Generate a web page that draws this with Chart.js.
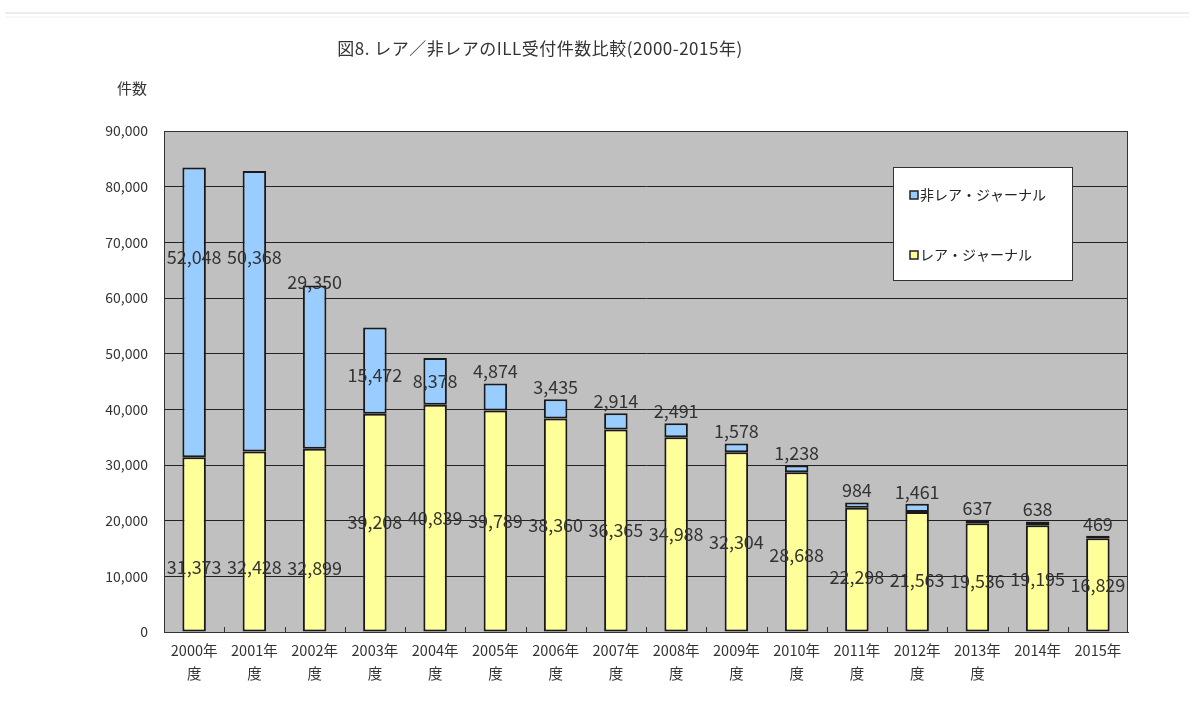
<!DOCTYPE html>
<html>
<head>
<meta charset="utf-8">
<script src="https://cdn.jsdelivr.net/npm/chart.js@4/dist/chart.umd.min.js"></script>
<style>
html,body{margin:0;padding:0;background:#fff;}
#wrap{position:relative;width:1194px;height:706px;}
#topline{position:absolute;left:5px;right:5px;top:12px;height:2px;background:#ececec;}
#topline2{position:absolute;left:5px;right:5px;top:16px;height:2px;background:#f7f7f7;}
canvas{position:absolute;left:0;top:0;}
</style>
</head>
<body>
<div id="wrap">
<canvas id="c" width="1194" height="706"></canvas>
<div id="topline"></div><div id="topline2"></div>
</div>
<script>
const categories = [
  ["2000年","度"],["2001年","度"],["2002年","度"],["2003年","度"],
  ["2004年","度"],["2005年","度"],["2006年","度"],["2007年","度"],
  ["2008年","度"],["2009年","度"],["2010年","度"],["2011年","度"],
  ["2012年","度"],["2013年","度"],["2014年"],["2015年"]
];
const rareJournal = [31373,32428,32899,39208,40839,39789,38360,36365,34988,32304,28688,22298,21563,19536,19195,16829];
const nonRareJournal = [52048,50368,29350,15472,8378,4874,3435,2914,2491,1578,1238,984,1461,637,638,469];
const seriesNames = ["レア・ジャーナル","非レア・ジャーナル"];
const titleText = "図8. レア／非レアのILL受付件数比較(2000-2015年)";
const yAxisTitle = "件数";
const yMax = 90000, yStep = 10000;

const FONT = "'Noto Sans CJK JP', 'Noto Sans', sans-serif";
const fmt = v => v.toLocaleString('en-US');

// label placement tweaks (pixels), mimicking the manually-moved labels in the original
const rareShift = [23,26,28,0,0,0,0,0,0,0,3,7,8,4,1,0];
const nonRareShift = [-55,-54,-85,4,0,0,0,0,0,0,0,0,0,0,0,0];

const decor = {
  id:'decor',
  beforeDraw(chart){
    const {ctx, chartArea:a} = chart;
    ctx.save();
    ctx.fillStyle = '#c0c0c0';
    ctx.fillRect(a.left, a.top, a.right-a.left, a.bottom-a.top);
    ctx.restore();
  },
  afterDatasetsDraw(chart){
    const ctx = chart.ctx;
    ctx.save();
    ctx.font = "18px " + FONT;
    ctx.fillStyle = '#333';
    ctx.textAlign = 'center';
    ctx.textBaseline = 'middle';
    const m0 = chart.getDatasetMeta(0), m1 = chart.getDatasetMeta(1);
    m0.data.forEach((el,i)=>{
      const y = (el.y + el.base)/2 + rareShift[i];
      ctx.fillText(fmt(rareJournal[i]), el.x, y);
    });
    m1.data.forEach((el,i)=>{
      const h = el.base - el.y;
      let y;
      if (h >= 40 || nonRareShift[i] !== 0) y = (el.y + el.base)/2 + nonRareShift[i];
      else y = el.y - 12;
      ctx.fillText(fmt(nonRareJournal[i]), el.x, y);
    });
    ctx.restore();
  },
  afterDraw(chart){
    const {ctx, chartArea:a} = chart;
    ctx.save();
    // plot border
    ctx.strokeStyle = '#333';
    ctx.lineWidth = 1;
    ctx.strokeRect(a.left+0.5, a.top+0.5, a.right-a.left-1, a.bottom-a.top);
    // small category ticks on x axis (inside)
    const n = categories.length, w = (a.right-a.left)/n;
    ctx.beginPath();
    for (let i=1;i<n;i++){
      const x = Math.round(a.left + i*w)+0.5;
      ctx.moveTo(x, a.bottom); ctx.lineTo(x, a.bottom-5);
    }
    ctx.stroke();
    // title
    ctx.fillStyle = '#333';
    ctx.font = "17px " + FONT;
    ctx.textAlign = 'center';
    ctx.textBaseline = 'middle';
    ctx.letterSpacing = '0.5px';
    ctx.fillText(titleText, 540, 49);
    ctx.letterSpacing = '0px';
    // y title
    ctx.font = "15px " + FONT;
    ctx.fillText(yAxisTitle, 132, 88);
    // legend
    const lx = 893, ly = 167, lw = 179, lh = 113;
    ctx.fillStyle = '#fff';
    ctx.fillRect(lx, ly, lw, lh);
    ctx.strokeStyle = '#333';
    ctx.strokeRect(lx+0.5, ly+0.5, lw, lh);
    const items = [
      {name: seriesNames[1], color: chart.data.datasets[1].backgroundColor, y: 195},
      {name: seriesNames[0], color: chart.data.datasets[0].backgroundColor, y: 255}
    ];
    ctx.font = "14px " + FONT;
    ctx.textAlign = 'left';
    items.forEach(it=>{
      ctx.fillStyle = it.color;
      ctx.fillRect(910, it.y-4, 8, 8);
      ctx.strokeStyle = '#222';
      ctx.lineWidth = 1.5;
      ctx.strokeRect(910, it.y-4, 8, 8);
      ctx.fillStyle = '#222';
      ctx.fillText(it.name, 920, it.y);
    });
    ctx.restore();
  }
};

new Chart(document.getElementById('c'), {
  type: 'bar',
  data: {
    labels: categories,
    datasets: [
      {label: seriesNames[0], data: rareJournal, backgroundColor: '#ffff99', borderColor: '#1a1a1a', borderWidth: 2, borderSkipped: false, barPercentage: 0.39, categoryPercentage: 1},
      {label: seriesNames[1], data: nonRareJournal, backgroundColor: '#99ccff', borderColor: '#1a1a1a', borderWidth: 2, borderSkipped: false, barPercentage: 0.39, categoryPercentage: 1}
    ]
  },
  options: {
    responsive: false,
    animation: false,
    layout: {padding: {top: 131, right: 66, bottom: 0, left: 0}},
    plugins: {legend: {display: false}, tooltip: {enabled: false}, title: {display: false}},
    scales: {
      x: {
        stacked: true,
        offset: true,
        grid: {display: false},
        border: {display: true, color: '#333'},
        ticks: {font: {family: FONT, size: 14.5, lineHeight: 1.6}, color: '#333', padding: -1, maxRotation: 0, autoSkip: false},
        afterFit(s){ s.height = 74; }
      },
      y: {
        stacked: true,
        min: 0, max: yMax,
        grid: {color: '#222', drawTicks: false},
        border: {display: true, color: '#333'},
        ticks: {stepSize: yStep, font: {family: FONT, size: 14}, color: '#333', padding: 16, callback: v => fmt(v)},
        afterFit(s){ s.width = 164; }
      }
    }
  },
  plugins: [decor]
});
</script>
</body>
</html>
